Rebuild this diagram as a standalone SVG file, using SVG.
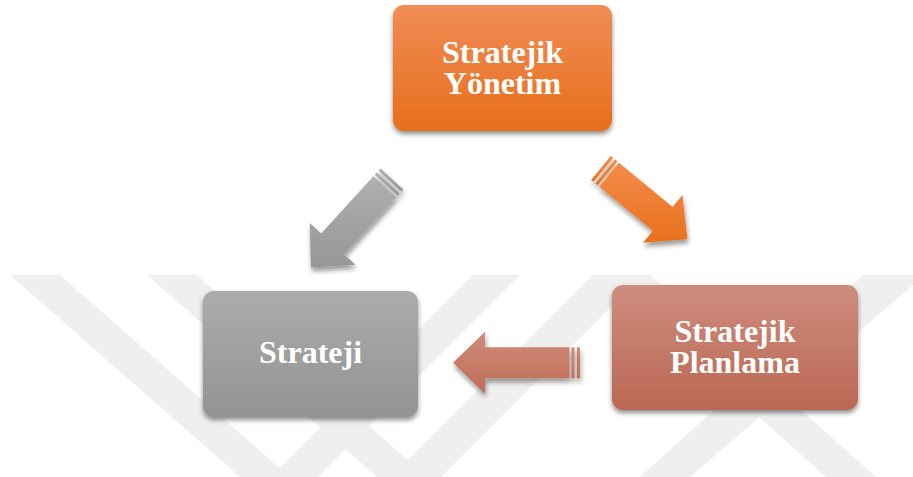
<svg xmlns="http://www.w3.org/2000/svg" width="913" height="477" viewBox="0 0 913 477">
  <defs>
    <linearGradient id="gOrange" x1="0" y1="0" x2="0" y2="1">
      <stop offset="0" stop-color="#f08c55"/>
      <stop offset="1" stop-color="#e86e1b"/>
    </linearGradient>
    <linearGradient id="gGray" x1="0" y1="0" x2="0" y2="1">
      <stop offset="0" stop-color="#acacac"/>
      <stop offset="1" stop-color="#939393"/>
    </linearGradient>
    <linearGradient id="gSalmon" x1="0" y1="0" x2="0" y2="1">
      <stop offset="0" stop-color="#ce8c7e"/>
      <stop offset="1" stop-color="#ba6853"/>
    </linearGradient>
    <linearGradient id="gOrangeArrow" x1="0" y1="0" x2="0" y2="1">
      <stop offset="0" stop-color="#f38c4a"/>
      <stop offset="1" stop-color="#e9701c"/>
    </linearGradient>
    <linearGradient id="gGrayArrow" x1="0" y1="0" x2="0" y2="1">
      <stop offset="0" stop-color="#b0b0b0"/>
      <stop offset="1" stop-color="#969696"/>
    </linearGradient>
    <linearGradient id="gSalmonArrow" x1="0" y1="0" x2="0" y2="1">
      <stop offset="0" stop-color="#d08c7c"/>
      <stop offset="1" stop-color="#bf6c58"/>
    </linearGradient>
    <filter id="boxShadow" x="-10%" y="-10%" width="120%" height="125%">
      <feDropShadow dx="0" dy="3" stdDeviation="2.5" flood-color="#000" flood-opacity="0.45"/>
    </filter>
    <filter id="arrowShadow" x="-20%" y="-20%" width="140%" height="140%">
      <feDropShadow dx="1" dy="4" stdDeviation="2.5" flood-color="#000" flood-opacity="0.4"/>
    </filter>
  </defs>
  <style>
    .label { font-family: "Liberation Serif", "Times New Roman", serif; font-weight: bold; font-size: 32px; fill: #ffffff; text-anchor: middle; }
    .band { fill: #efefef; }
  </style>

  <rect x="0" y="0" width="913" height="477" fill="#ffffff"/>

  <!-- faint background emblem of diagonal bands -->
  <g id="watermark">
    <polygon class="band" points="10,275 60,275 290,477 240,477"/>
    <polygon class="band" points="147,275 197,275 427,477 377,477"/>
    <polygon class="band" points="473,275 520,275 318,477 271,477"/>
    <polygon class="band" points="593,275 643,275 441,477 391,477"/>
    <polygon class="band" points="600,275 650,275 876,477 826,477"/>
    <polygon class="band" points="863,275 913,275 913,285 690,477 640,477"/>
  </g>

  <!-- connectors: block arrows -->
  <g id="connectors" filter="url(#arrowShadow)">
    <g id="arrow-yonetim-strateji" fill="url(#gGrayArrow)">
      <polygon points="396.33,197.21 343.98,254.35 355.41,264.82 310.93,267.48 309.69,222.94 321.12,233.41 373.48,176.27"/>
      <polygon points="403.43,189.47 401.40,191.68 378.54,170.74 380.57,168.53"/>
      <polygon points="399.71,193.53 397.69,195.74 374.83,174.80 376.85,172.59"/>
    </g>
    <g id="arrow-yonetim-planlama" fill="url(#gOrangeArrow)">
      <polygon points="618.96,162.72 672.59,206.93 682.45,194.97 687.42,239.24 643.01,242.81 652.87,230.85 599.24,186.64"/>
      <polygon points="610.86,156.04 613.18,157.95 593.45,181.87 591.14,179.96"/>
      <polygon points="615.10,159.54 617.42,161.45 597.70,185.37 595.38,183.46"/>
    </g>
    <g id="arrow-planlama-strateji" fill="url(#gSalmonArrow)">
      <polygon points="569.5,378.3 485,378.3 485,393.8 453,362.8 485,331.8 485,347.3 569.5,347.3"/>
      <rect x="571.5" y="347.3" width="3" height="31"/>
      <rect x="577" y="347.3" width="3" height="31"/>
    </g>
  </g>

  <!-- nodes -->
  <g id="node-stratejik-yonetim">
    <rect x="393" y="5" width="219" height="126" rx="11" fill="url(#gOrange)" filter="url(#boxShadow)"/>
    <text class="label" x="502.5" y="63">Stratejik</text>
    <text class="label" x="502.5" y="94">Yönetim</text>
  </g>

  <g id="node-strateji">
    <rect x="203" y="291" width="215" height="126" rx="11" fill="url(#gGray)" filter="url(#boxShadow)"/>
    <text class="label" x="310.5" y="363">Strateji</text>
  </g>

  <g id="node-stratejik-planlama">
    <rect x="612" y="285" width="246" height="125" rx="11" fill="url(#gSalmon)" filter="url(#boxShadow)"/>
    <text class="label" x="735" y="342">Stratejik</text>
    <text class="label" x="735" y="373">Planlama</text>
  </g>
</svg>
